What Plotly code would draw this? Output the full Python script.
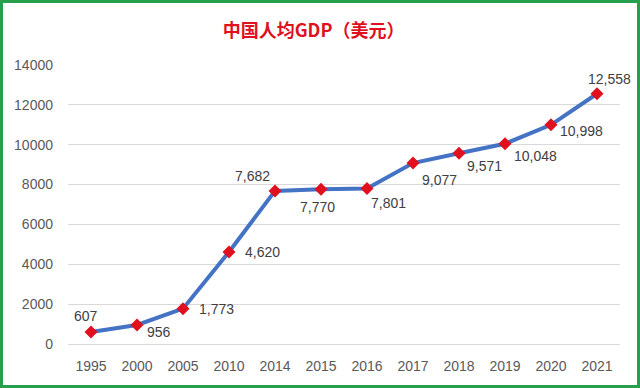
import plotly.graph_objects as go

years = ["1995", "2000", "2005", "2010", "2014", "2015", "2016", "2017", "2018", "2019", "2020", "2021"]
gdp = [607, 956, 1773, 4620, 7682, 7770, 7801, 9077, 9571, 10048, 10998, 12558]
labels = ["607", "956", "1,773", "4,620", "7,682", "7,770", "7,801", "9,077", "9,571", "10,048", "10,998", "12,558"]
# label offsets (pixels) relative to each point: styling only
label_dx = [-5, 22, 33, 33, -23, -4, 21, 26, 25, 30, 30, 12]
label_dy = [16, -7, 0, 0, 15, -18, -14, -17, -13, -12, -6, 15]

W, H = 640, 388
ml, mr, mt, mb = 68, 20, 65, 44
pw, ph = W - ml - mr, H - mt - mb

fig = go.Figure(go.Scatter(
    x=years, y=gdp, mode="lines+markers",
    line=dict(color="#4472C4", width=4),
    marker=dict(symbol="diamond", color="#E0101E", size=10, line=dict(width=0)),
    showlegend=False, cliponaxis=False,
))

for i, (v, t, dx, dy) in enumerate(zip(gdp, labels, label_dx, label_dy)):
    fig.add_annotation(x=i, y=v, text=t, showarrow=False, xshift=dx, yshift=dy,
                       font=dict(family="Liberation Sans, Arial", size=14, color="#404040"))

bw = 3
fig.add_shape(type="rect", xref="paper", yref="paper",
              x0=(-ml + bw / 2) / pw, x1=(pw + mr - bw / 2) / pw,
              y0=(-mb + bw / 2) / ph, y1=(ph + mt - bw / 2) / ph,
              line=dict(color="#26A04C", width=bw), layer="above")

fig.update_layout(
    width=W, height=H,
    margin=dict(l=ml, r=mr, t=mt, b=mb),
    paper_bgcolor="white", plot_bgcolor="white",
    title=dict(text="中国人均GDP（美元）", x=0.49, xanchor="center", y=1 - 31 / H, yanchor="middle",
               font=dict(family="Noto Sans CJK SC", size=18, color="#E0101E", weight="bold")),
    xaxis=dict(type="category", categoryorder="array", categoryarray=years,
               range=[-0.5, len(years) - 0.5], showgrid=False, showline=False, ticks="",
               tickfont=dict(family="Liberation Sans, Arial", size=14, color="#595959"),
               ticklabelstandoff=12),
    yaxis=dict(range=[0, 14000], dtick=2000, tickformat="d", showgrid=True, gridcolor="#D9D9D9", gridwidth=1,
               zeroline=True, zerolinecolor="#D9D9D9", zerolinewidth=1, ticks="",
               tickfont=dict(family="Liberation Sans, Arial", size=14, color="#595959"),
               ticklabelstandoff=14),
)

fig.write_html("out.html", config={"displayModeBar": False},
               post_script="document.body.style.margin='0';document.body.style.overflow='hidden';")
